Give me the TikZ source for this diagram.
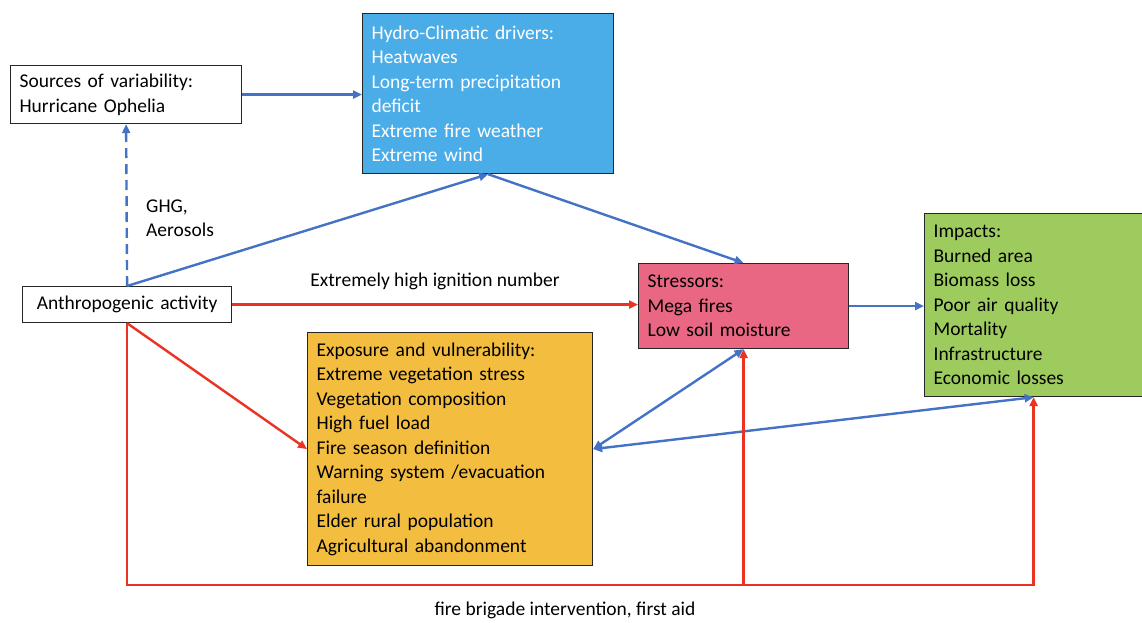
\documentclass[tikz,border=0pt]{standalone}
\usepackage{fontspec}
\setmainfont{Carlito}
\usetikzlibrary{arrows.meta,calc}
\definecolor{lblue}{HTML}{4472C4}
\definecolor{lred}{HTML}{EA3323}
\definecolor{hydrofill}{HTML}{4BADE8}
\definecolor{stressfill}{HTML}{E96783}
\definecolor{expofill}{HTML}{F3BD3F}
\definecolor{impfill}{HTML}{9DCB5E}
\begin{document}
\begin{tikzpicture}[x=1pt,y=-1pt,
  every node/.style={font=\fontsize{19.5}{24.5}\selectfont},
  box/.style={draw=black!85,line width=1.2pt,anchor=north west,inner xsep=9pt,inner ysep=0pt,align=left},
  bluearrow/.style={draw=lblue,line width=2.4pt,-{Triangle[length=9pt,width=8pt]}},
  bluedouble/.style={draw=lblue,line width=2.4pt,{Triangle[length=9pt,width=8pt]}-{Triangle[length=9pt,width=8pt]}},
  redarrow/.style={draw=lred,line width=2.4pt,-{Triangle[length=9pt,width=8pt]}},
  lbl/.style={inner sep=0pt}]
\useasboundingbox (0,0) rectangle (1142,623);
\fill[white] (0,0) rectangle (1142,623);

\node[box,minimum width=231pt,minimum height=58pt,text width=213pt] (sources) at (10,65)
  {Sources of variability:\\Hurricane Ophelia};
\node[box,fill=hydrofill,text=white,minimum width=251pt,minimum height=160pt,text width=233pt] (hydro) at (362,13)
  {Hydro-Climatic drivers:\\Heatwaves\\Long-term precipitation\\deficit\\Extreme fire weather\\Extreme wind};
\node[box,minimum width=209pt,minimum height=36pt,text width=191pt,align=center] (anthro) at (22,286)
  {Anthropogenic activity};
\node[box,fill=stressfill,minimum width=210pt,minimum height=85pt,text width=192pt] (stressors) at (638,263)
  {Stressors:\\Mega fires\\Low soil moisture};
\node[box,fill=impfill,minimum width=218pt,minimum height=183pt,text width=200pt] (impacts) at (924,213)
  {Impacts:\\Burned area\\Biomass loss\\Poor air quality\\Mortality\\Infrastructure\\Economic losses};
\node[box,fill=expofill,minimum width=285pt,minimum height=233pt,text width=267pt] (expo) at (307,332)
  {Exposure and vulnerability:\\Extreme vegetation stress\\Vegetation composition\\High fuel load\\Fire season definition\\Warning system /evacuation\\failure\\Elder rural population\\Agricultural abandonment};

% blue connectors
\draw[bluearrow] (sources.east) -- (sources.east -| hydro.west);
\draw[bluearrow,dash pattern=on 10pt off 6pt] (anthro.north) -- (sources.south);
\draw[bluearrow] (anthro.north) -- (hydro.south);
\draw[bluearrow] (hydro.south) -- (stressors.north);
\draw[bluearrow] (stressors.east) -- (stressors.east -| impacts.west);
\draw[bluedouble] (expo.east) -- (stressors.south);
\draw[bluedouble] (expo.east) -- (impacts.south);

% red connectors
\draw[redarrow] (anthro.east) -- (anthro.east -| stressors.west)
  node[lbl,midway,above=14pt] {Extremely high ignition number};
\draw[redarrow] (anthro.south) -- (expo.west);
\coordinate (base) at (0,585);
\draw[redarrow] (anthro.south) |- (base -| impacts.south) -- (impacts.south);
\draw[redarrow] (base -| stressors.south) -- (stressors.south);

% labels
\node[lbl,anchor=west,align=left] (ghg) at (146,218) {GHG,\\Aerosols};
\node[lbl] (brigade) at (565,610) {fire brigade intervention, first aid};
\end{tikzpicture}
\end{document}
